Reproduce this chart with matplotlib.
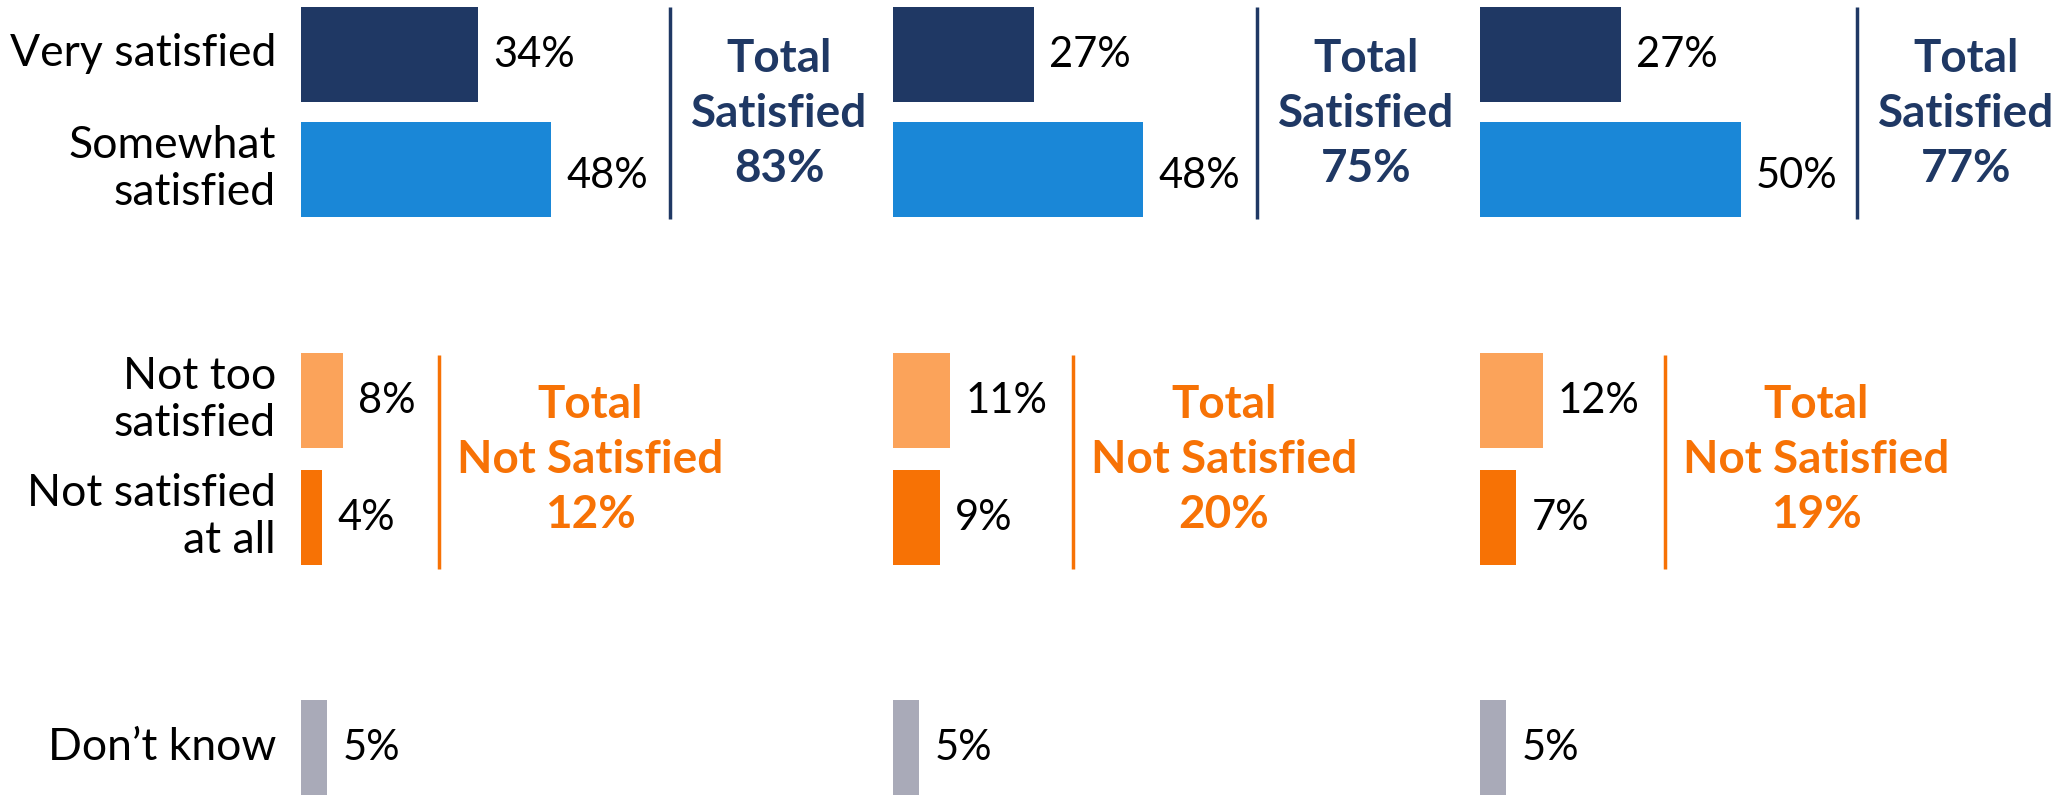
import matplotlib
matplotlib.use("Agg")
import matplotlib.pyplot as plt

plt.rcParams['font.family'] = ['Lato', 'DejaVu Sans']

# categories and values (percent), one list per panel
categories = ["Very satisfied", "Somewhat\nsatisfied", "Not too\nsatisfied",
              "Not satisfied\nat all", "Don\u2019t know"]
panel_1 = [34, 48, 8, 4, 5]
panel_2 = [27, 48, 11, 9, 5]
panel_3 = [27, 50, 12, 7, 5]
total_satisfied = [83, 75, 77]
total_not_satisfied = [12, 20, 19]
panels = [panel_1, panel_2, panel_3]

NAVY = "#1f3864"
BLUE = "#1a87d7"
LIGHT_ORANGE = "#fba35a"
ORANGE = "#f77205"
GREY = "#a9aab8"
bar_colors = [NAVY, BLUE, LIGHT_ORANGE, ORANGE, GREY]

W, H = 2059, 801
PX_PER_PCT = 5.21
row_y = [54, 169, 400, 517, 747]   # row centres in pixels from top
bar_h = 95
panel_left = [301, 893, 1480]
panel_w = 575
# divider line x (pixels from panel left) for the top and bottom groups
navy_line_x = [369, 364, 377]
orange_line_x = [138, 180, 185]

fig = plt.figure(figsize=(W / 100, H / 100), dpi=100)

for i, vals in enumerate(panels):
    ax = fig.add_axes([panel_left[i] / W, 0, panel_w / W, 1])
    ax.set_xlim(0, panel_w / PX_PER_PCT)
    ax.set_ylim(H, 0)
    ax.axis("off")
    ax.barh(row_y, vals, height=bar_h, color=bar_colors, left=0)
    for k, (v, y) in enumerate(zip(vals, row_y)):
        dy = -4 if k == 1 else 0
        ax.annotate(f"{v}%", xy=(v, y), xytext=(11, dy - 1), textcoords="offset points",
                    va="center", ha="left", fontsize=30, color="black")

    nx = navy_line_x[i] / PX_PER_PCT
    ax.plot([nx, nx], [7, 219], color=NAVY, lw=2.5, solid_capstyle="butt")
    ax.text(nx + 109 / PX_PER_PCT, 114, f"Total\nSatisfied\n{total_satisfied[i]}%",
            ha="center", va="center", fontsize=33, fontweight="bold", color=NAVY,
            linespacing=1.37)

    ox = orange_line_x[i] / PX_PER_PCT
    ax.plot([ox, ox], [355, 569], color=ORANGE, lw=2.5, solid_capstyle="butt")
    ax.text(ox + 151 / PX_PER_PCT, 460, f"Total\nNot Satisfied\n{total_not_satisfied[i]}%",
            ha="center", va="center", fontsize=33, fontweight="bold", color=ORANGE,
            linespacing=1.37)

# category labels on the left
for cat, y in zip(categories, row_y):
    fig.text(276 / W, 1 - y / H, cat, ha="right", va="center", fontsize=32,
             color="black", linespacing=1.2)

fig.savefig("out.png", dpi=100)
